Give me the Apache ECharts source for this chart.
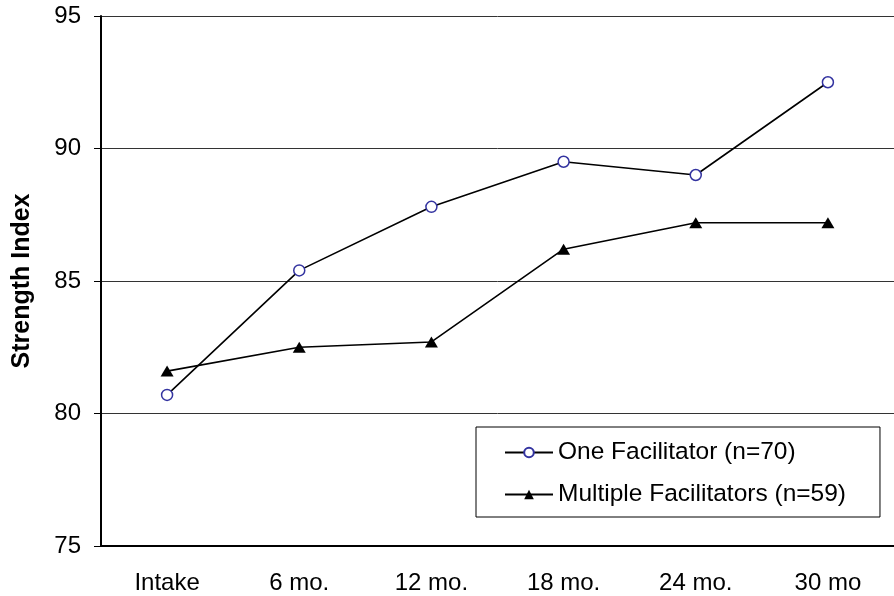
<!DOCTYPE html>
<html>
	<head>
		<meta charset="utf-8">
		<script src="https://cdnjs.cloudflare.com/ajax/libs/echarts/6.0.0/echarts.min.js"></script>
		<title>Strength Index</title>
	</head>
	<style>
		* {
			margin: 0;
			padding: 0;
		}
		#chart {
			width: 894px;
			height: 596px;
			background: #fff;
		}
	</style>
	<body>
		<div id="chart"></div>
	</body>
	<script type="text/javascript">
		// data
		var categories = ['Intake', '6 mo.', '12 mo.', '18 mo.', '24 mo.', '30 mo'];
		var oneFacilitator = [80.7, 85.4, 87.8, 89.5, 89.0, 92.5];
		var multipleFacilitators = [81.6, 82.5, 82.7, 86.2, 87.2, 87.2];
		var yTicks = [75, 80, 85, 90, 95];

		var font = 'Arial, "Liberation Sans", sans-serif';

		var option = {
			animation: false,
			grid: {
				left: 101,
				top: 16,
				width: 800,
				height: 530
			},
			legend: {
				orient: 'vertical',
				left: 476,
				top: 427,
				padding: [13, 34, 10, 28],
				itemWidth: 48,
				itemHeight: 12,
				itemGap: 17,
				borderColor: '#000',
				borderWidth: 1,
				textStyle: {
					fontFamily: font,
					fontSize: 24.5,
					color: '#000'
				},
				data: ['One Facilitator (n=70)', 'Multiple Facilitators (n=59)']
			},
			xAxis: {
				type: 'category',
				data: categories,
				axisLine: {
					lineStyle: { color: '#000', width: 2 }
				},
				axisTick: {
					length: 7,
					lineStyle: { color: '#000' }
				},
				axisLabel: {
					margin: 25,
					fontFamily: font,
					fontSize: 24,
					color: '#000'
				}
			},
			yAxis: {
				type: 'value',
				min: yTicks[0],
				max: yTicks[yTicks.length - 1],
				interval: 5,
				name: 'Strength Index',
				nameLocation: 'middle',
				nameGap: 66,
				nameTextStyle: {
					fontFamily: font,
					fontSize: 25,
					fontWeight: 'bold',
					color: '#000'
				},
				axisLine: {
					show: true,
					lineStyle: { color: '#000', width: 2 }
				},
				axisTick: {
					show: true,
					length: 7,
					lineStyle: { color: '#000' }
				},
				axisLabel: {
					margin: 20,
					fontFamily: font,
					fontSize: 24,
					color: '#000'
				},
				splitLine: {
					lineStyle: { color: '#333', width: 1 }
				}
			},
			series: [{
					name: 'One Facilitator (n=70)',
					type: 'line',
					data: oneFacilitator,
					symbol: 'circle',
					symbolSize: 11,
					lineStyle: { color: '#000', width: 1.6 },
					itemStyle: {
						color: '#fff',
						borderColor: '#3333a0',
						borderWidth: 1.5
					},
					z: 3
				},
				{
					name: 'Multiple Facilitators (n=59)',
					type: 'line',
					data: multipleFacilitators,
					symbol: 'triangle',
					symbolSize: [13, 11],
					lineStyle: { color: '#000', width: 1.6 },
					itemStyle: {
						color: '#000'
					},
					z: 2
				}
			]
		};

		var chart = echarts.init(document.getElementById('chart'));
		chart.setOption(option);
	</script>
</html>
